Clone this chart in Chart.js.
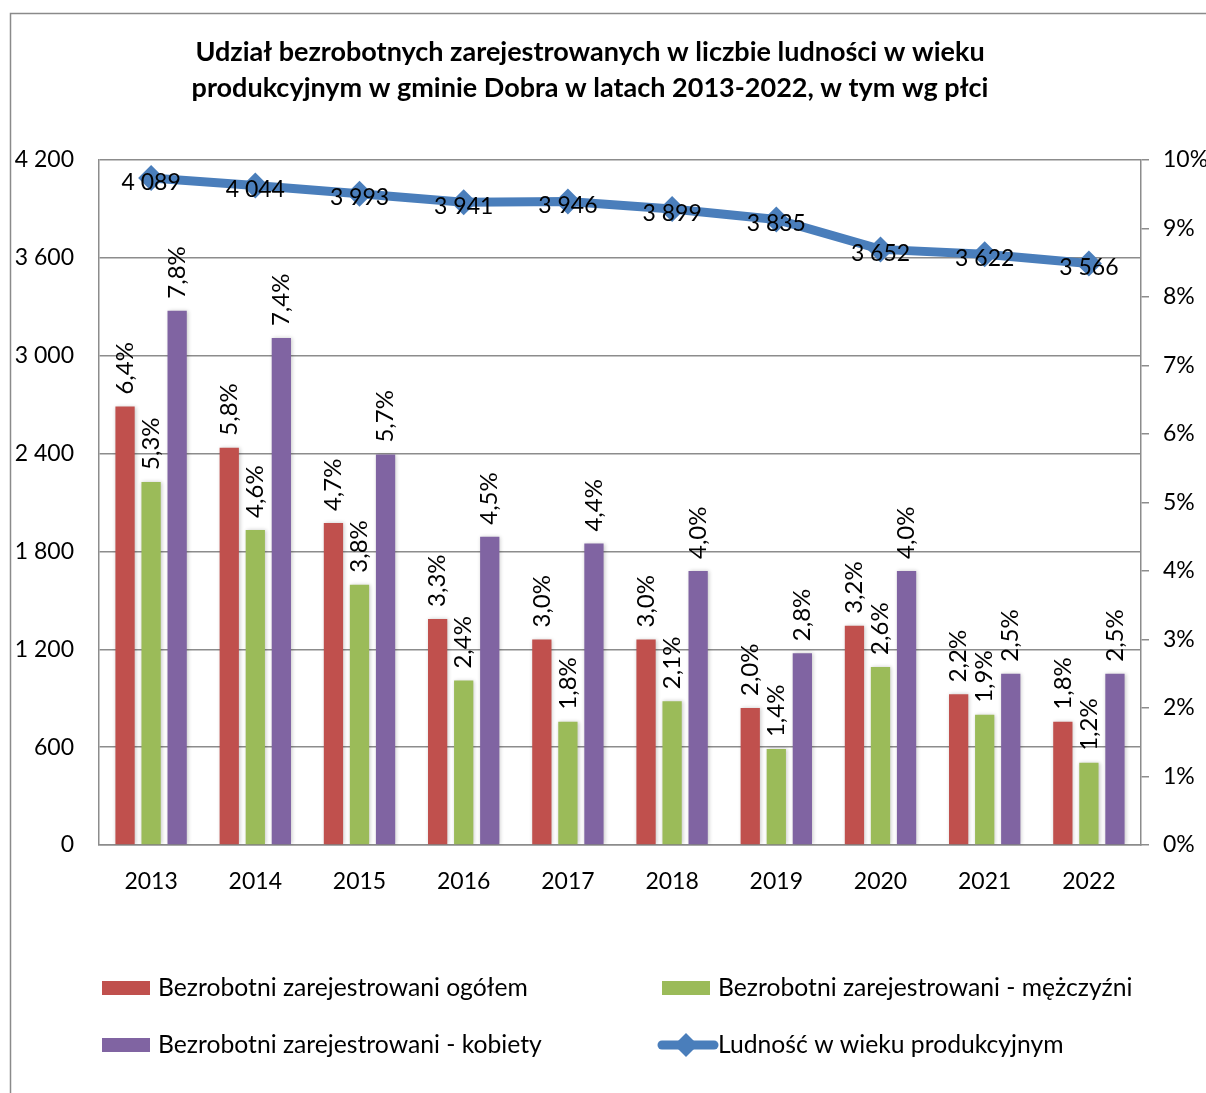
<!DOCTYPE html>
<html lang="pl">
<head>
<meta charset="UTF-8">
<title>Bezrobotni - gmina Dobra</title>
<script src="https://cdn.jsdelivr.net/npm/chart.js@4.4.1/dist/chart.umd.min.js"></script>
<style>
    body{ margin:0; background:#fff; }
    #board{ width:1206px; height:1093px; }
</style>
</head>
<body>
<div id="board"><canvas id="chart1" width="1206" height="1093"></canvas></div>
<script>
    const years = ['2013','2014','2015','2016','2017','2018','2019','2020','2021','2022'];
    const ogolem = [6.4, 5.8, 4.7, 3.3, 3.0, 3.0, 2.0, 3.2, 2.2, 1.8];
    const mezczyzni = [5.3, 4.6, 3.8, 2.4, 1.8, 2.1, 1.4, 2.6, 1.9, 1.2];
    const kobiety = [7.8, 7.4, 5.7, 4.5, 4.4, 4.0, 2.8, 4.0, 2.5, 2.5];
    const ludnosc = [4089, 4044, 3993, 3941, 3946, 3899, 3835, 3652, 3622, 3566];

    const FONT = 'Lato, "Open Sans", sans-serif';
    const GRID = '#8c8c8c';

    const fmtNum = v => String(v).replace(/\B(?=(\d{3})+(?!\d))/g, ' ');
    const fmtPct = v => v.toFixed(1).replace('.', ',') + '%';

    // ramka wykresu
    const frame = {
        id:'frame',
        beforeDraw(chart){
            const c = chart.ctx;
            c.save();
            c.strokeStyle = '#8a8a8a';
            c.lineWidth = 1.5;
            c.beginPath();
            c.moveTo(chart.width, 13.5);
            c.lineTo(10.5, 13.5);
            c.lineTo(10.5, chart.height);
            c.stroke();
            c.restore();
        }
    };

    // tytuł trochę w lewo, jak w oryginale
    const titleShift = {
        id:'titleShift',
        afterLayout(chart){
            const t = chart.titleBlock;
            if (t) { t.left -= 18; t.right -= 18; }
        }
    };

    // lekki cień słupków
    const shadow = {
        id:'shadow',
        beforeDatasetDraw(chart, args){
            if (args.meta.type !== 'bar') return;
            const c = chart.ctx;
            c.save();
            c.shadowColor = 'rgba(0,0,0,0.22)';
            c.shadowBlur = 4;
            c.shadowOffsetX = 1;
            c.shadowOffsetY = 0;
        },
        afterDatasetDraw(chart, args){
            if (args.meta.type !== 'bar') return;
            chart.ctx.restore();
        }
    };

    // etykiety danych
    const labels = {
        id:'labels',
        afterDatasetsDraw(chart){
            const c = chart.ctx;
            c.save();
            c.fillStyle = '#000';
            chart.data.datasets.forEach((ds, i) => {
                const meta = chart.getDatasetMeta(i);
                meta.data.forEach((el, j) => {
                    const v = ds.data[j];
                    if (ds.type === 'line') {
                        c.font = '23px ' + FONT;
                        c.textAlign = 'center';
                        c.textBaseline = 'middle';
                        c.fillText(fmtNum(v), el.x, el.y + 4);
                    } else {
                        c.save();
                        c.translate(el.x, el.y - 12);
                        c.rotate(-Math.PI / 2);
                        c.font = '24px ' + FONT;
                        c.textAlign = 'left';
                        c.textBaseline = 'middle';
                        c.fillText(fmtPct(v), 0, 0);
                        c.restore();
                    }
                });
            });
            c.restore();
        }
    };

    // legenda w dwóch kolumnach
    const legend2 = {
        id:'legend2',
        afterDraw(chart){
            const c = chart.ctx;
            const items = [
                {text:'Bezrobotni zarejestrowani ogółem', color:'#C0504D', x:102, y:988},
                {text:'Bezrobotni zarejestrowani - mężczyźni', color:'#9BBB59', x:662, y:988},
                {text:'Bezrobotni zarejestrowani - kobiety', color:'#8064A2', x:102, y:1045},
                {text:'Ludność w wieku produkcyjnym', color:'#4A7EBB', x:658, y:1045, line:true}
            ];
            c.save();
            c.font = '24.7px ' + FONT;
            c.textBaseline = 'middle';
            c.textAlign = 'left';
            items.forEach(it => {
                if (it.line) {
                    c.strokeStyle = it.color;
                    c.lineWidth = 9;
                    c.lineCap = 'round';
                    c.beginPath();
                    c.moveTo(it.x + 4, it.y);
                    c.lineTo(it.x + 56, it.y);
                    c.stroke();
                    c.fillStyle = it.color;
                    c.beginPath();
                    c.moveTo(it.x + 28, it.y - 12);
                    c.lineTo(it.x + 40, it.y);
                    c.lineTo(it.x + 28, it.y + 12);
                    c.lineTo(it.x + 16, it.y);
                    c.closePath();
                    c.fill();
                    c.fillStyle = '#000';
                    c.fillText(it.text, it.x + 60, it.y);
                } else {
                    c.fillStyle = it.color;
                    c.fillRect(it.x, it.y - 7, 48, 14);
                    c.fillStyle = '#000';
                    c.fillText(it.text, it.x + 56, it.y);
                }
            });
            c.restore();
        }
    };

    const barCommon = {
        type:'bar',
        yAxisID:'y1',
        order:1,
        categoryPercentage:0.75,
        barPercentage:0.74,
        borderWidth:0
    };

    const ctx = document.getElementById('chart1').getContext('2d');
    new Chart(ctx, {
        data:{
            labels: years,
            datasets:[
                {...barCommon, label:'Bezrobotni zarejestrowani ogółem', data:ogolem, backgroundColor:'#C0504D'},
                {...barCommon, label:'Bezrobotni zarejestrowani - mężczyźni', data:mezczyzni, backgroundColor:'#9BBB59'},
                {...barCommon, label:'Bezrobotni zarejestrowani - kobiety', data:kobiety, backgroundColor:'#8064A2'},
                {
                    type:'line',
                    label:'Ludność w wieku produkcyjnym',
                    data:ludnosc,
                    yAxisID:'y',
                    order:0,
                    borderColor:'#4A7EBB',
                    backgroundColor:'#4A7EBB',
                    borderWidth:9,
                    pointStyle:'rectRot',
                    pointRadius:13,
                    pointBorderWidth:0,
                    tension:0
                }
            ]
        },
        options:{
            responsive:false,
            animation:false,
            layout:{ padding:{ top:13, left:10, right:0, bottom:188 } },
            plugins:{
                legend:{ display:false },
                tooltip:{ enabled:false },
                title:{
                    display:true,
                    text:['Udział bezrobotnych zarejestrowanych w liczbie ludności w wieku',
                          'produkcyjnym w gminie Dobra w latach 2013-2022, w tym wg płci'],
                    color:'#000',
                    font:{ family:FONT, size:27, weight:'bold', lineHeight:36 / 27 },
                    padding:{ top:21, bottom:54 }
                }
            },
            scales:{
                x:{
                    grid:{ display:false },
                    border:{ display:true, color:GRID, width:1.5 },
                    ticks:{ color:'#000', font:{ family:FONT, size:23 }, padding:15 },
                    afterFit(s){ s.height = 60; }
                },
                y:{
                    position:'left',
                    min:0, max:4200,
                    grid:{ color:GRID, lineWidth:1.5, drawTicks:false },
                    border:{ display:true, color:GRID, width:1.5 },
                    ticks:{ stepSize:600, color:'#000', font:{ family:FONT, size:23 }, padding:25,
                            callback:v => fmtNum(v) },
                    afterFit(s){ s.width = 89; }
                },
                y1:{
                    position:'right',
                    min:0, max:10,
                    grid:{ drawOnChartArea:false, color:GRID, lineWidth:1.5, tickLength:8 },
                    border:{ display:true, color:GRID, width:1.5 },
                    ticks:{ stepSize:1, color:'#000', font:{ family:FONT, size:23 }, padding:14,
                            callback:v => v + '%' },
                    afterFit(s){ s.width = 65; }
                }
            }
        },
        plugins:[frame, titleShift, shadow, labels, legend2]
    });
</script>
</body>
</html>
